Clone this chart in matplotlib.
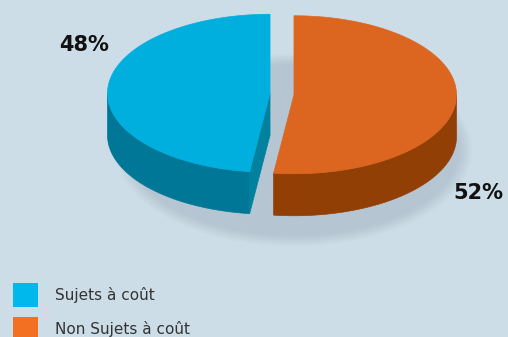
import numpy as np
import matplotlib
matplotlib.use("Agg")
import matplotlib.pyplot as plt
from matplotlib.patches import Polygon, Rectangle, Ellipse

# data
labels = ["Sujets à coût", "Non Sujets à coût"]
values = [48, 52]
pct_labels = ["48%", "52%"]

# colours
bg = "#cddde7"
top_colors = ["#00afdd", "#dc6620"]
side_colors = ["#007796", "#923f06"]
cut_colors = ["#00829f", "#a04a10"]
legend_colors = ["#00b8ec", "#f36f21"]

# pie geometry (pixel units, y grows downward)
cx0, cy0 = 282, 94
a, b = 162.5, 79
depth = 42
explode = 12
start = 90.0


def rim(cx, cy, th, dy=0.0):
    th = np.radians(th)
    return np.column_stack([cx + a * np.cos(th), cy - b * np.sin(th) + dy])


fig = plt.figure(figsize=(5.08, 3.37), dpi=100)
fig.patch.set_facecolor(bg)
ax = fig.add_axes([0, 0, 1, 1])
ax.set_xlim(0, 508)
ax.set_ylim(337, 0)
ax.axis("off")

# soft shadow under the pie
for k in range(6):
    ax.add_patch(Ellipse((294, 150), 2 * a + 6 + 5 * k, 2 * b + 14 + 4 * k,
                         color="#50687a", alpha=0.03, lw=0, zorder=1))

slices = []
t = start
for v in values:
    t0, t1 = t, t + 360.0 * v / sum(values)
    mid = np.radians((t0 + t1) / 2)
    cx = cx0 + explode * np.cos(mid)
    cy = cy0 - explode * np.sin(mid)
    slices.append((t0, t1, cx, cy))
    t = t1

# walls and cut faces
for i, (t0, t1, cx, cy) in enumerate(slices):
    for lo, hi in [(180, 360), (540, 720)]:
        s, e = max(t0, lo), min(t1, hi)
        if e > s:
            th = np.linspace(s, e, 120)
            top = rim(cx, cy, th)
            bot = rim(cx, cy, th[::-1], depth)
            ax.add_patch(Polygon(np.vstack([top, bot]), closed=True,
                                 fc=side_colors[i], ec=side_colors[i], lw=0.5, zorder=2))
    for edge, vis in [(t1, np.cos(np.radians(t1)) < -1e-6),
                      (t0, np.cos(np.radians(t0)) > 1e-6)]:
        if vis:
            p = rim(cx, cy, [edge])[0]
            quad = [(cx, cy), p, (p[0], p[1] + depth), (cx, cy + depth)]
            ax.add_patch(Polygon(quad, closed=True, fc=cut_colors[i],
                                 ec=cut_colors[i], lw=0.5, zorder=2))

# top faces
for i, (t0, t1, cx, cy) in enumerate(slices):
    th = np.linspace(t0, t1, 200)
    pts = np.vstack([[cx, cy], rim(cx, cy, th)])
    ax.add_patch(Polygon(pts, closed=True, fc=top_colors[i], ec=top_colors[i],
                         lw=0.5, zorder=3))

# percentage labels
ax.text(84, 45, pct_labels[0], fontsize=15, fontweight="bold", color="#111111",
        ha="center", va="center", zorder=4)
ax.text(478, 193, pct_labels[1], fontsize=15, fontweight="bold", color="#111111",
        ha="center", va="center", zorder=4)

# legend
for i, lab in enumerate(labels):
    y = 283 + 34 * i
    ax.add_patch(Rectangle((13, y), 25, 24, fc=legend_colors[i], ec="none", zorder=4))
    ax.text(55, y + 12, lab, fontsize=11, color="#333333", ha="left", va="center", zorder=4)

fig.savefig("out.png", dpi=100, facecolor=bg)
